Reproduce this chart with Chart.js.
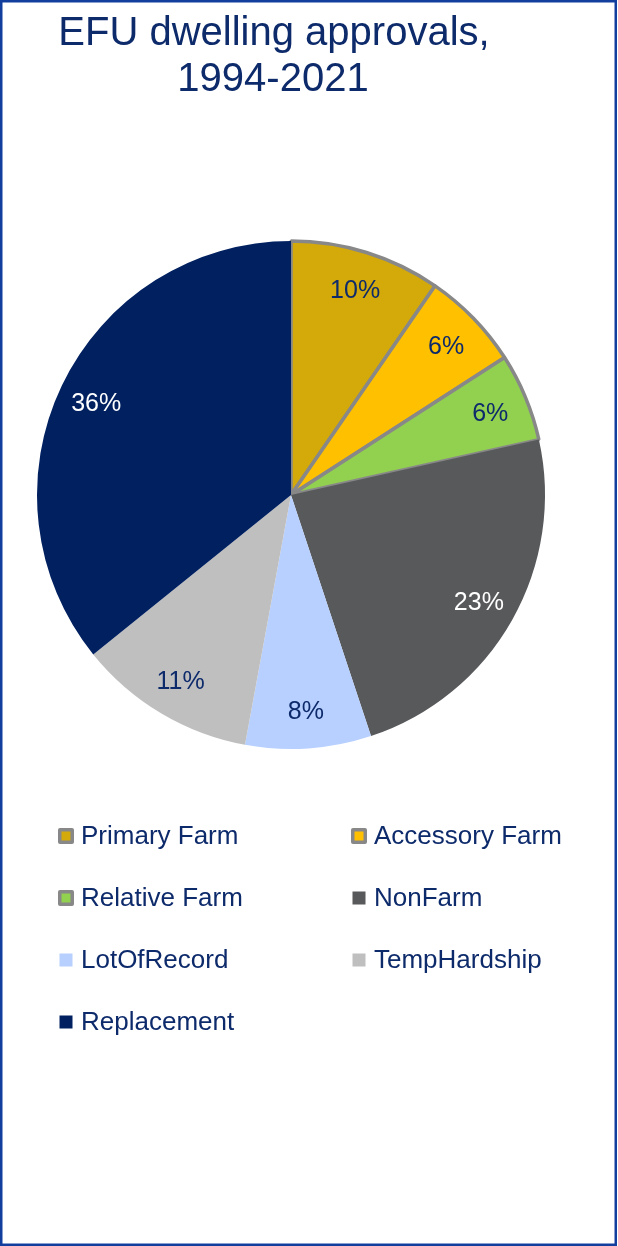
<!DOCTYPE html>
<html>
<head>
<meta charset="utf-8">
<script src="https://cdn.jsdelivr.net/npm/chart.js@4/dist/chart.umd.min.js"></script>
<style>
  html, body { margin: 0; padding: 0; background: #ffffff; }
  canvas { display: block; }
</style>
</head>
<body>
<canvas id="c" width="618" height="1246"></canvas>
<script>
const titleLines = ["EFU dwelling approvals,", "1994-2021"];
const categories = ["Primary Farm", "Accessory Farm", "Relative Farm", "NonFarm", "LotOfRecord", "TempHardship", "Replacement"];
const shares = [9.6, 6.3, 5.6, 23.4, 8.0, 11.3, 35.8];
const sliceColors = ["#D4A90A", "#FFC000", "#92D050", "#58595B", "#B7D0FF", "#BFBFBF", "#002060"];
const sliceBorderColors = ["#888888", "#888888", "#888888", "#58595B", "#B7D0FF", "#BFBFBF", "#002060"];
const sliceBorderWidths = [3.5, 3.5, 3.5, 0, 0, 0, 0];
const labelColors = ["#0D2A6B", "#0D2A6B", "#0D2A6B", "#FFFFFF", "#0D2A6B", "#0D2A6B", "#FFFFFF"];

const NAVY = "#0D2A6B";
const FONT = "'Liberation Sans', Arial, sans-serif";

const decorPlugin = {
  id: 'decor',
  beforeDraw(chart) {
    const ctx = chart.ctx;
    ctx.save();
    ctx.fillStyle = '#ffffff';
    ctx.fillRect(0, 0, chart.width, chart.height);
    ctx.restore();
  },
  afterDatasetsDraw(chart) {
    const ctx = chart.ctx;
    const meta = chart.getDatasetMeta(0);
    const data = chart.data.datasets[0].data;
    const total = data.reduce((a, b) => a + b, 0);
    ctx.save();
    ctx.font = "25px " + FONT;
    ctx.textAlign = 'center';
    ctx.textBaseline = 'middle';
    meta.data.forEach((arc, i) => {
      const p = arc.getProps(['x', 'y', 'startAngle', 'endAngle', 'outerRadius'], true);
      const mid = (p.startAngle + p.endAngle) / 2;
      const r = p.outerRadius * 0.85;
      const x = p.x + Math.cos(mid) * r;
      const y = p.y + Math.sin(mid) * r;
      ctx.fillStyle = labelColors[i];
      ctx.fillText(Math.round(data[i] / total * 100) + '%', x, y + 2);
    });
    ctx.restore();
  },
  afterDraw(chart) {
    const ctx = chart.ctx;
    ctx.save();
    // title
    ctx.fillStyle = NAVY;
    ctx.font = "40px " + FONT;
    ctx.textAlign = 'center';
    ctx.textBaseline = 'alphabetic';
    ctx.fillText(titleLines[0], 274, 45);
    ctx.fillText(titleLines[1], 273, 91);

    // legend
    const ds = chart.data.datasets[0];
    const colX = [58, 351];
    const rowY = [836, 898, 960, 1022];
    ctx.font = "26px " + FONT;
    ctx.textAlign = 'left';
    ctx.textBaseline = 'middle';
    chart.data.labels.forEach((lab, i) => {
      const bx = colX[i % 2];
      const cy = rowY[Math.floor(i / 2)];
      const bw = ds.borderWidth[i];
      if (bw > 0) {
        ctx.fillStyle = ds.borderColor[i];
        ctx.beginPath();
        if (ctx.roundRect) ctx.roundRect(bx, cy - 8, 16, 16, 2); else ctx.rect(bx, cy - 8, 16, 16);
        ctx.fill();
        ctx.fillStyle = ds.backgroundColor[i];
        ctx.fillRect(bx + 3.5, cy - 4.5, 9, 9);
      } else {
        ctx.fillStyle = ds.backgroundColor[i];
        ctx.fillRect(bx + 1.5, cy - 6.5, 13, 13);
      }
      ctx.fillStyle = NAVY;
      ctx.fillText(lab, bx + 23, cy + 1);
    });

    // outer frame
    ctx.strokeStyle = '#123E9E';
    ctx.lineWidth = 2.5;
    ctx.strokeRect(1.25, 1.25, chart.width - 3.5, chart.height - 2.5);
    ctx.restore();
  }
};

new Chart(document.getElementById('c'), {
  type: 'pie',
  data: {
    labels: categories,
    datasets: [{
      data: shares,
      backgroundColor: sliceColors,
      borderColor: sliceBorderColors,
      borderWidth: sliceBorderWidths,
      hoverBorderWidth: sliceBorderWidths,
      hoverOffset: 0
    }]
  },
  options: {
    responsive: false,
    animation: false,
    events: [],
    layout: { padding: { left: 35.25, right: 71.25, top: 239.25, bottom: 495.25 } },
    plugins: {
      legend: { display: false },
      title: { display: false },
      tooltip: { enabled: false }
    }
  },
  plugins: [decorPlugin]
});
</script>
</body>
</html>
